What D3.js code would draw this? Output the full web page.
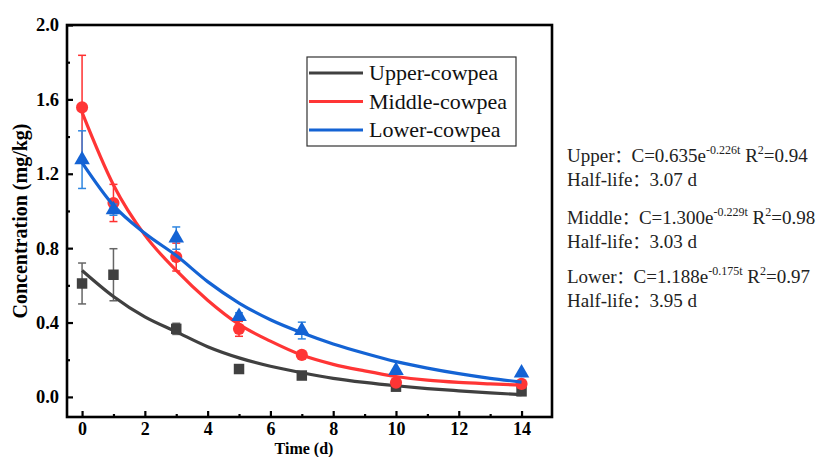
<!DOCTYPE html>
<html><head><meta charset="utf-8">
<script src="https://cdn.jsdelivr.net/npm/d3@7"></script>
<style>body{margin:0;background:#fff;} svg{display:block;}</style>
</head><body><svg id="c" width="826" height="457"></svg>
<script>
const days = [0, 1, 3, 5, 7, 10, 14];
const upperVals = [0.61, 0.657, 0.366, 0.15, 0.115, 0.055, 0.03];
const upperErr = [0.11, 0.14, 0.03, 0, 0, 0, 0];
const middleVals = [1.557, 1.043, 0.752, 0.366, 0.226, 0.077, 0.07];
const middleErr = [0.28, 0.1, 0.075, 0.04, 0, 0, 0];
const lowerVals = [1.276, 1.007, 0.854, 0.432, 0.357, 0.142, 0.128];
const lowerErr = [0.155, 0.03, 0.06, 0.02, 0.045, 0, 0];
const fitDays = [0,1,2,3,4,5,6,7,8,9,10,11,12,13,14];
const upperFit = [0.68,0.54,0.43,0.35,0.27,0.21,0.165,0.13,0.10,0.078,0.06,0.045,0.033,0.022,0.012];
const middleFit = [1.53,1.14,0.87,0.68,0.52,0.39,0.30,0.225,0.175,0.14,0.11,0.09,0.078,0.07,0.063];
const lowerFit = [1.26,1.03,0.88,0.76,0.62,0.505,0.415,0.345,0.285,0.235,0.19,0.155,0.125,0.10,0.08];
const xTicks = [0,2,4,6,8,10,12,14];
const yTicks = [0.0,0.4,0.8,1.2,1.6,2.0];
const names = ["Upper-cowpea","Middle-cowpea","Lower-cowpea"];
const colors = ["#404040","#ff3535","#1463d4"];
const errColors = ["#666666","#ff3030","#2f86e0"];
const eqNames = ["Upper","Middle","Lower"];
const eqA = ["0.635","1.300","1.188"];
const eqK = ["-0.226t","-0.229t","-0.175t"];
const eqR2 = ["0.94","0.98","0.97"];
const halfLife = ["3.07","3.03","3.95"];

const svg = d3.select("#c");
const L=67, R=552, T=25, B=417;
const x = d3.scaleLinear().domain([-0.48,14.97]).range([L,R]);
const y = d3.scaleLinear().domain([-0.108,2.0]).range([B,T]);
const serif = "'Liberation Serif','Times New Roman',serif";
const cjk = "'Noto Sans CJK SC',sans-serif";

// axes ticks (inward)
const xAx = d3.axisBottom(x).tickValues(xTicks).tickSize(-6).tickPadding(5).tickFormat(d3.format("d"));
const gx = svg.append("g").attr("transform",`translate(0,${B})`).call(xAx);
const xMinor = d3.axisBottom(x).tickValues([1,3,5,7,9,11,13]).tickSize(-3).tickFormat("");
svg.append("g").attr("transform",`translate(0,${B})`).call(xMinor);
const yAx = d3.axisLeft(y).tickValues(yTicks).tickSize(-6).tickPadding(8).tickFormat(d3.format(".1f"));
const gy = svg.append("g").attr("transform",`translate(${L},0)`).call(yAx);
const yMinor = d3.axisLeft(y).tickValues([0.2,0.6,1.0,1.4,1.8]).tickSize(-3).tickFormat("");
svg.append("g").attr("transform",`translate(${L},0)`).call(yMinor);
svg.selectAll(".domain").remove();
svg.selectAll(".tick line").attr("stroke","#000").attr("stroke-width",2.2);
svg.selectAll(".tick text").attr("font-family",serif).attr("font-weight","bold").attr("fill","#000");
gx.selectAll(".tick text").attr("font-size",18);
gy.selectAll(".tick text").attr("font-size",18.5);

// frame
svg.append("rect").attr("x",L).attr("y",T).attr("width",R-L).attr("height",B-T)
  .attr("fill","none").attr("stroke","#000").attr("stroke-width",2.6);

// axis titles
svg.append("text").attr("x",304).attr("y",453.5).attr("text-anchor","middle")
  .attr("font-family",serif).attr("font-weight","bold").attr("font-size",16).text("Time (d)");
svg.append("text").attr("transform","translate(27,221) rotate(-90)").attr("text-anchor","middle")
  .attr("font-family",serif).attr("font-weight","bold").attr("font-size",20).text("Concentration (mg/kg)");

const vals=[upperVals,middleVals,lowerVals], errs=[upperErr,middleErr,lowerErr], fits=[upperFit,middleFit,lowerFit];
const line = d3.line().x((d,i)=>x(fitDays[i])).y(d=>y(d)).curve(d3.curveMonotoneX);
const plot = svg.append("g");
[0,1,2].forEach(s=>{
  const g = plot.append("g");
  days.forEach((t,i)=>{
    const e = errs[s][i];
    if(e>0){
      const v=vals[s][i];
      g.append("line").attr("x1",x(t)).attr("x2",x(t)).attr("y1",y(v-e)).attr("y2",y(v+e)).attr("stroke",errColors[s]).attr("stroke-width",1.5);
      [v-e,v+e].forEach(w=>g.append("line").attr("x1",x(t)-4).attr("x2",x(t)+4).attr("y1",y(w)).attr("y2",y(w)).attr("stroke",errColors[s]).attr("stroke-width",1.5));
    }
  });
  const sym = [d3.symbolSquare,d3.symbolCircle,d3.symbolTriangle][s];
  const size = [110,115,105][s];
  days.forEach((t,i)=>{
    g.append("path").attr("d",d3.symbol().type(sym).size(size)())
      .attr("transform",`translate(${x(t)},${y(vals[s][i])})`).attr("fill",colors[s]);
  });
  g.append("path").datum(fits[s]).attr("d",line).attr("fill","none").attr("stroke",colors[s]).attr("stroke-width",3.2);
});

// legend
const lg = svg.append("g");
lg.append("rect").attr("x",307).attr("y",57).attr("width",209).attr("height",89).attr("fill","#fff").attr("stroke","#333").attr("stroke-width",1.2);
names.forEach((n,i)=>{
  const yy = 73 + i*28.5;
  lg.append("line").attr("x1",309).attr("x2",363).attr("y1",yy).attr("y2",yy).attr("stroke",colors[i]).attr("stroke-width",3.2);
  lg.append("text").attr("x",369).attr("y",yy+7).attr("font-family",serif).attr("font-size",22).attr("fill","#111").text(n);
});

// equations
const eqBase = [162,224,283];
eqNames.forEach((n,i)=>{
  const t = svg.append("text").attr("x",567).attr("y",eqBase[i]).attr("font-family",serif).attr("font-size",19).attr("fill","#222");
  t.append("tspan").text(n);
  t.append("tspan").attr("font-family",cjk).attr("font-size",17).text("：");
  t.append("tspan").text("C="+eqA[i]+"e");
  t.append("tspan").attr("dy",-8).attr("font-size",12).text(eqK[i]);
  t.append("tspan").attr("dy",8).text(" R");
  t.append("tspan").attr("dy",-8).attr("font-size",12).text("2");
  t.append("tspan").attr("dy",8).text("="+eqR2[i]);
  const h = svg.append("text").attr("x",567).attr("y",eqBase[i]+23.5).attr("font-family",serif).attr("font-size",19).attr("fill","#222");
  h.append("tspan").text("Half-life");
  h.append("tspan").attr("font-family",cjk).attr("font-size",17).text("：");
  h.append("tspan").text(halfLife[i]+" d");
});
</script></body></html>
